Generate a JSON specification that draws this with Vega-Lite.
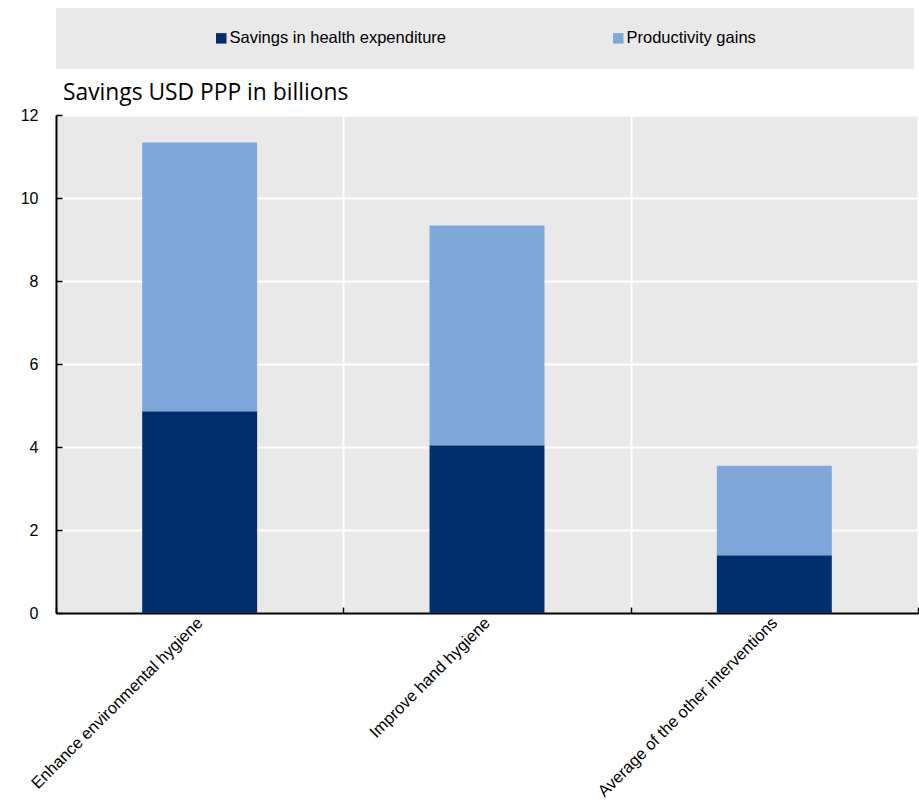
{
  "$schema": "https://vega.github.io/schema/vega-lite/v6.json",
  "padding": {"left": 20, "top": 8, "right": 0, "bottom": 0},
  "background": "white",
  "bounds": "flush",
  "spacing": 46,
  "config": {
    "font": "Liberation Sans",
    "view": {"stroke": null},
    "axis": {"labelFont": "Liberation Sans", "labelColor": "#000000", "labelFontSize": 16}
  },
  "datasets": {
    "savings": [
      {"intervention": "Enhance environmental hygiene", "component": "Savings in health expenditure", "value": 4.86},
      {"intervention": "Enhance environmental hygiene", "component": "Productivity gains", "value": 6.48},
      {"intervention": "Improve hand hygiene", "component": "Savings in health expenditure", "value": 4.04},
      {"intervention": "Improve hand hygiene", "component": "Productivity gains", "value": 5.30},
      {"intervention": "Average of the other interventions", "component": "Savings in health expenditure", "value": 1.39},
      {"intervention": "Average of the other interventions", "component": "Productivity gains", "value": 2.16}
    ]
  },
  "vconcat": [
    {
      "width": 858,
      "height": 61,
      "view": {"fill": "#e9e9e9", "stroke": null},
      "data": {"values": []},
      "mark": "point"
    },
    {
      "width": 862,
      "height": 498,
      "view": {"fill": "#e9e9e9", "stroke": null},
      "title": {
        "text": "Savings USD PPP in billions",
        "anchor": "start",
        "frame": "group",
        "font": "Open Sans",
        "fontSize": 22.8,
        "fontWeight": "normal",
        "color": "#000000",
        "dx": 7,
        "offset": 2
      },
      "data": {"name": "savings"},
      "mark": {"type": "bar", "width": {"band": 0.4}},
      "encoding": {
        "x": {
          "field": "intervention",
          "type": "nominal",
          "sort": ["Enhance environmental hygiene", "Improve hand hygiene", "Average of the other interventions"],
          "scale": {"paddingInner": 0, "paddingOuter": 0},
          "axis": {
            "title": null,
            "tickBand": "extent",
            "grid": true,
            "gridColor": "#ffffff",
            "gridWidth": 2,
            "domainColor": "#000000",
            "domainWidth": 2,
            "tickColor": "#000000",
            "tickWidth": 1.5,
            "tickSize": -6,
            "labelAngle": -45,
            "labelAlign": "right",
            "labelBaseline": "middle",
            "labelPadding": 13,
            "labelFontSize": 16.4,
            "labelLimit": 400
          }
        },
        "y": {
          "field": "value",
          "type": "quantitative",
          "aggregate": "sum",
          "stack": "zero",
          "scale": {"domain": [0, 12], "nice": false},
          "axis": {
            "title": null,
            "values": [0, 2, 4, 6, 8, 10, 12],
            "grid": true,
            "gridColor": "#ffffff",
            "gridWidth": 2,
            "domainColor": "#000000",
            "domainWidth": 2,
            "tickColor": "#000000",
            "tickWidth": 1.5,
            "tickSize": -6,
            "labelPadding": 24,
            "labelFontSize": 16
          }
        },
        "color": {
          "field": "component",
          "type": "nominal",
          "sort": ["Savings in health expenditure", "Productivity gains"],
          "scale": {
            "domain": ["Savings in health expenditure", "Productivity gains"],
            "range": ["#002f6c", "#7fa7d9"]
          },
          "legend": {
            "title": null,
            "orient": "none",
            "direction": "horizontal",
            "legendX": 157,
            "legendY": 22,
            "symbolType": "square",
            "symbolSize": 110,
            "symbolStrokeWidth": 0,
            "labelFont": "Liberation Sans",
            "labelFontSize": 16.5,
            "labelColor": "#000000",
            "labelOffset": 0,
            "columnPadding": 164,
            "labelLimit": 400
          }
        },
        "order": {"field": "component", "sort": "descending"}
      }
    }
  ]
}
